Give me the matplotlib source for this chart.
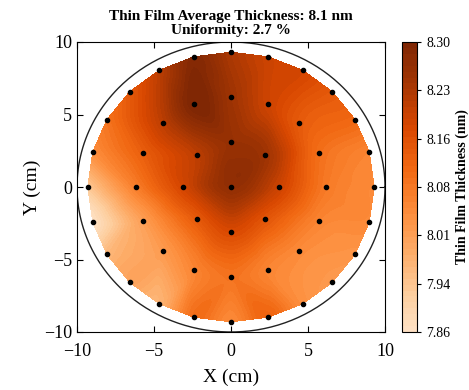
import matplotlib
matplotlib.use('Agg')
import matplotlib.pyplot as plt
import matplotlib.tri as mtri
from matplotlib.colors import LinearSegmentedColormap
import numpy as np

# 测量点布局：圆环半径和每圈点数
ring_radius = [0.0, 3.1, 6.2, 9.3]
ring_count = [1, 8, 16, 24]

# 每圈的厚度值 (nm)，从 +x 方向逆时针
t_center = [8.27]
t_ring1 = [8.19, 8.25, 8.26, 8.21, 8.18, 8.14, 8.17, 8.15]
t_ring2 = [8.08, 8.10, 8.14, 8.19, 8.25, 8.304, 8.21, 8.13,
           8.07, 8.01, 8.02, 8.06, 8.09, 8.06, 8.05, 8.06]
t_ring3 = [8.05, 8.06, 8.11, 8.14, 8.18, 8.19, 8.23, 8.29,
           8.21, 8.14, 8.09, 8.04, 7.93, 7.864, 7.96, 8.00,
           7.97, 8.10, 8.05, 8.12, 8.04, 8.02, 8.03, 8.05]

plt.rcParams['font.family'] = ['Liberation Serif', 'DejaVu Serif']

# 计算坐标
xs, ys = [], []
for r, n in zip(ring_radius, ring_count):
    ang = np.deg2rad(np.arange(n) * 360.0 / n)
    xs.extend(r * np.cos(ang))
    ys.extend(r * np.sin(ang))
x = np.array(xs)
y = np.array(ys)
z = np.array(t_center + t_ring1 + t_ring2 + t_ring3)

zmin, zmax, zmean = z.min(), z.max(), z.mean()
uniformity = (zmax - zmin) / (2 * zmean) * 100

# 截断的 Oranges 色图
base = plt.get_cmap('Oranges')
cmap = LinearSegmentedColormap.from_list('or_trunc', base(np.linspace(0.15, 1.0, 256)))

# 三角剖分 + 三次插值
tri = mtri.Triangulation(x, y)
interp = mtri.CubicTriInterpolator(tri, z, kind='geom')
refiner = mtri.UniformTriRefiner(tri)
tri_f, z_f = refiner.refine_field(z, triinterpolator=interp, subdiv=4)
eps = 1e-4
z_f = np.clip(z_f, zmin + eps, zmax - eps)

fig = plt.figure(figsize=(4.69, 3.90), dpi=100)
ax = fig.add_axes([77 / 469, 58 / 390, 308 / 469, 290 / 390])
cax = fig.add_axes([402 / 469, 58 / 390, 15 / 469, 290 / 390])

levels = np.linspace(zmin, zmax, 50)
cf = ax.tricontourf(tri_f, z_f, levels=levels, cmap=cmap)
ax.scatter(x, y, s=9, c='black', zorder=3)

th = np.linspace(0, 2 * np.pi, 400)
ax.plot(10 * np.cos(th), 10 * np.sin(th), color='#222222', lw=1.0)

ax.set_xlim(-10, 10)
ax.set_ylim(-10, 10)
ax.set_xticks([-10, -5, 0, 5, 10])
ax.set_yticks([-10, -5, 0, 5, 10])
ax.tick_params(direction='in', top=True, right=True, labelsize=13, length=4)
ax.tick_params(axis='x', pad=8)
ax.set_xlabel('X (cm)', fontsize=14, labelpad=6)
ax.set_ylabel('Y (cm)', fontsize=14, labelpad=2)
ax.set_title('Thin Film Average Thickness: %.1f nm\nUniformity: %.1f %%' % (zmean, uniformity),
             fontsize=11, fontweight='bold', linespacing=1.1, pad=6)

cb = fig.colorbar(cf, cax=cax)
cb.set_ticks(np.linspace(zmin, zmax, 7))
cb.set_ticklabels(['%.2f' % v for v in np.linspace(zmin, zmax, 7)])
cb.ax.tick_params(labelsize=10, length=3)
cb.set_label('Thin Film Thickness (nm)', fontsize=10, fontweight='bold')

fig.savefig('out.png', dpi=100)
